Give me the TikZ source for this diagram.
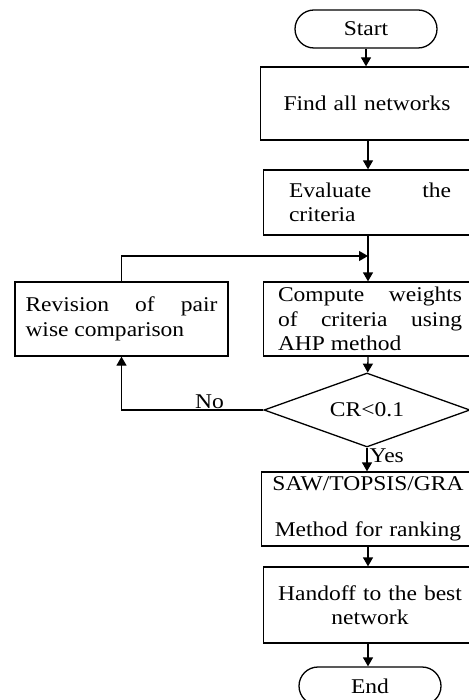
\documentclass[tikz,border=0pt]{standalone}
\usepackage{fontspec}
\setmainfont{Liberation Serif}[FakeStretch=1.12]
\usetikzlibrary{shapes.geometric,arrows.meta}
\hyphenpenalty=10000
\exhyphenpenalty=10000
\tolerance=10000
\hbadness=10000

\begin{document}
\begin{tikzpicture}[x=1pt,y=-1pt,->,>={Triangle[length=9pt,width=10pt]},line width=1.3pt,
  every node/.style={font=\fontsize{21}{24.5}\selectfont},
  box/.style={draw,rectangle,minimum width=213,minimum height=74,text width=185,align=justify,inner sep=0},
  term/.style={draw,rounded corners=19,minimum width=142,minimum height=38,inner sep=0},
  decide/.style={draw,diamond,aspect=2.78,minimum width=206,minimum height=74,inner sep=0}]

\useasboundingbox (0,0) rectangle (468,700);

\node[term] (start) at (366,29) {Start};
\node[box,minimum height=73,text width=190,align=center] (find) at (367,103.5) {Find all networks};
\node[box,minimum height=65,text width=162] (eval) at (370,202.5) {Evaluate the criteria};
\node[box,text width=184] (comp) at (370,319) {Compute weights of criteria using AHP method};
\node[box,text width=192] (rev) at (121.5,319) {Revision of pair wise comparison};
\node[decide] (crit) at (367,410) {CR<0.1};
\node[box,text width=205,align=center] (saw) at (368,509) {SAW/TOPSIS/GRA\\[22pt]Method for ranking};
\node[box,minimum height=76,text width=205,align=center] (hand) at (370,605) {Handoff to the best\\network};
\node[term] (end) at (370,686) {End};

\coordinate (join) at (368,256);

\draw (start) -- (start |- find.north);
\draw (find.south -| join) -- (join |- eval.north);
\draw (eval.south -| join) -- (join |- comp.north);
\draw (rev.north) |- (join);
\draw (comp.south -| join) -- (crit);
\draw (crit) -- node[right,inner sep=2pt,pos=0.35] {Yes} (crit |- saw.north);
\draw (crit.west) -| node[above,inner sep=1pt,pos=0.19] {No} (rev.south);
\draw (saw.south -| join) -- (join |- hand.north);
\draw (hand.south -| join) -- (join |- end.north);

\end{tikzpicture}
\end{document}
